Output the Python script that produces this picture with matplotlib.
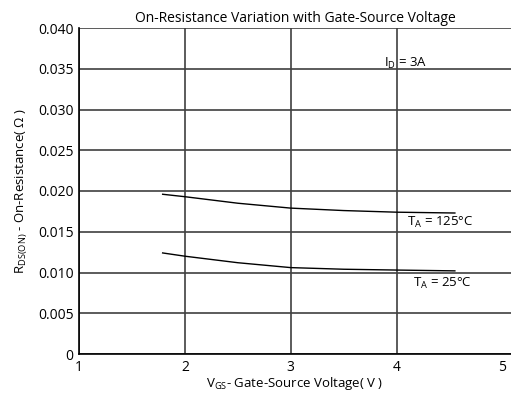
import numpy as np
import matplotlib
matplotlib.use("Agg")
import matplotlib.pyplot as plt

plt.rcParams['font.family'] = ['Open Sans', 'DejaVu Sans']
plt.rcParams['mathtext.fontset'] = 'custom'
plt.rcParams['mathtext.rm'] = 'Open Sans'

# data
vgs = [1.79, 2.0, 2.5, 3.0, 3.5, 4.0, 4.55]
rds_125 = [0.0196, 0.0193, 0.0185, 0.0179, 0.0176, 0.0174, 0.0173]
rds_25 = [0.0124, 0.0120, 0.0112, 0.0106, 0.0104, 0.0103, 0.0102]
xticks = [1, 2, 3, 4, 5]
yticks = [0, 0.005, 0.010, 0.015, 0.020, 0.025, 0.030, 0.035, 0.040]
ylabels = ['0', '0.005', '0.010', '0.015', '0.020', '0.025', '0.030', '0.035', '0.040']

fig = plt.figure(figsize=(5.11, 4.0), dpi=100)
ax = fig.add_axes([0.1546, 0.115, 0.8454, 0.815])

ax.plot(vgs, rds_125, color='black', lw=1.0)
ax.plot(vgs, rds_25, color='black', lw=1.0)

ax.set_xlim(1, 5.08)
ax.set_ylim(0, 0.040)
ax.set_xticks(xticks)
ax.set_yticks(yticks)
ax.set_yticklabels(ylabels)
ax.tick_params(length=0, labelsize=10, pad=4)
ax.grid(True, color='#404040', lw=1.2)
ax.set_axisbelow(True)
# no vertical line at the right end in the original
ax.get_xgridlines()[-1].set_visible(False)
for s in ['top', 'right']:
    ax.spines[s].set_visible(False)
for s in ['left', 'bottom']:
    ax.spines[s].set_color('black')
    ax.spines[s].set_linewidth(1.2)

ax.set_title('On-Resistance Variation with Gate-Source Voltage', fontsize=10, pad=4)
ax.set_xlabel(r'V$_{\mathregular{GS}}$- Gate-Source Voltage( V )', fontsize=9.5, labelpad=0)
ax.set_ylabel(r'R$_{\mathregular{DS(ON)}}$ - On-Resistance( Ω )', fontsize=9.5, labelpad=6)

ax.text(3.88, 0.0357, r'I$_{\mathregular{D}}$ = 3A', fontsize=9.5, va='center')
ax.text(4.10, 0.0161, r'T$_{\mathregular{A}}$ = 125°C', fontsize=9.5, va='center')
ax.text(4.15, 0.0086, r'T$_{\mathregular{A}}$ = 25°C', fontsize=9.5, va='center')

fig.savefig('out.png', dpi=100)
